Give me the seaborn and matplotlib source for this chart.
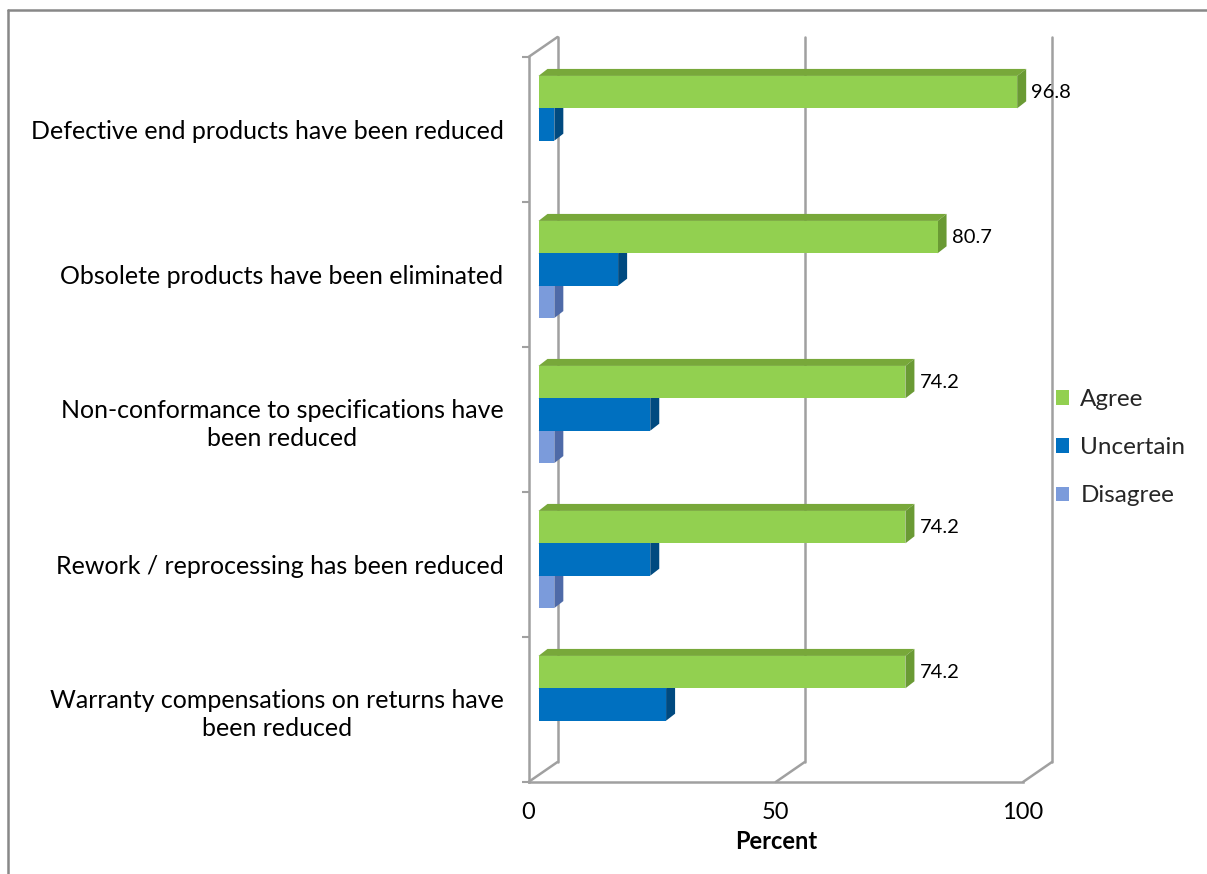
import matplotlib
matplotlib.use("Agg")
import matplotlib.pyplot as plt
import matplotlib.transforms as mtransforms
from matplotlib.patches import Polygon, Patch
from matplotlib.lines import Line2D
import numpy as np
import pandas as pd
import seaborn as sns

# Survey results (percent of respondents)
categories = [
    "Defective end products have been reduced",
    "Obsolete products have been eliminated",
    "Non-conformance to specifications have\nbeen reduced",
    "Rework / reprocessing has been reduced",
    "Warranty compensations on returns have\nbeen reduced",
]
responses = ["Agree", "Uncertain", "Disagree"]
agree = [96.8, 80.7, 74.2, 74.2, 74.2]
uncertain = [3.2, 16.1, 22.6, 22.6, 25.8]
disagree = [0.0, 3.2, 3.2, 3.2, 0.0]
x_ticks = [0, 50, 100]

front_colors = {"Agree": "#92D050", "Uncertain": "#0070C0", "Disagree": "#7B9BDB"}
top_colors = {"Agree": "#78A83A", "Uncertain": "#005C9E", "Disagree": "#6583C4"}
side_colors = {"Agree": "#6A9A34", "Uncertain": "#004A80", "Disagree": "#4E6AA8"}
grid_color = "#A0A0A0"

df = pd.DataFrame({
    "Statement": categories * 3,
    "Response": np.repeat(responses, len(categories)),
    "Percent": agree + uncertain + disagree,
})

sns.set_style("white")
plt.rcParams["font.family"] = ["Lato", "DejaVu Sans"]

W, H = 1207, 874
fig = plt.figure(figsize=(W / 100, H / 100), dpi=100)
# front plane of the 3-D box, in pixels
left_px, right_px, top_px, bottom_px = 528.5, 1023, 57, 782
ax = fig.add_axes([left_px / W, (H - bottom_px) / H,
                   (right_px - left_px) / W, (bottom_px - top_px) / H])

sns.barplot(data=df, x="Percent", y="Statement", hue="Response",
            order=categories, hue_order=responses, orient="h",
            palette=front_colors, width=0.67, saturation=1, linewidth=0,
            errorbar=None, legend=False, ax=ax)

ax.set_xlim(0, 100)
ax.set_ylim(4.5, -0.5)

# data units per pixel
ux = 100 / (right_px - left_px)
uy = 5 / (bottom_px - top_px)

# depth geometry (pixels)
bar_fx, bar_fy = 10, 5      # shift of the bars' front face from the front plane
bar_dx, bar_dy = 9, 7       # bar thickness in depth
wall_dx, wall_dy = 29, 20   # back plane offset

bar_tr = mtransforms.offset_copy(ax.transData, fig=fig, x=bar_fx, y=bar_fy, units="dots")
back_tr = mtransforms.offset_copy(ax.transData, fig=fig, x=wall_dx, y=wall_dy, units="dots")

ddx, ddy = bar_dx * ux, bar_dy * uy
for p in list(ax.patches):
    w = p.get_width()
    if w <= 0:
        p.set_visible(False)
        continue
    x0, y0, h = p.get_x(), p.get_y(), p.get_height()
    x1 = x0 + w
    fc = matplotlib.colors.to_hex(p.get_facecolor())
    resp = [r for r in responses if matplotlib.colors.to_hex(front_colors[r]) == fc][0]
    z = 3 + (5 - y0) * 0.5
    p.set_transform(bar_tr)
    p.set_zorder(z + 0.2)
    top = Polygon([(x0, y0), (x0 + ddx, y0 - ddy), (x1 + ddx, y0 - ddy), (x1, y0)],
                  closed=True, facecolor=top_colors[resp], edgecolor="none",
                  transform=bar_tr, zorder=z, clip_on=False)
    side = Polygon([(x1, y0), (x1 + ddx, y0 - ddy), (x1 + ddx, y0 + h - ddy), (x1, y0 + h)],
                   closed=True, facecolor=side_colors[resp], edgecolor="none",
                   transform=bar_tr, zorder=z + 0.1, clip_on=False)
    ax.add_patch(top)
    ax.add_patch(side)
    if resp == "Agree":
        ax.text(x1, y0 + h / 2, f"{w:.1f}",
                transform=mtransforms.offset_copy(ax.transData, fig=fig,
                                                  x=bar_fx + bar_dx + 5, y=bar_fy, units="dots"),
                ha="left", va="center", fontsize=14.5, color="#000000", zorder=10)

# back-plane gridlines and floor/wall diagonals
for xv in x_ticks:
    ax.plot([xv, xv], [-0.5, 4.5], color=grid_color, lw=1.8,
            transform=back_tr, clip_on=False, zorder=0.5)
    ax.plot([xv, xv + wall_dx * ux], [4.5, 4.5 - wall_dy * uy], color=grid_color,
            lw=1.8, clip_on=False, zorder=0.5)
ax.plot([0, wall_dx * ux], [-0.5, -0.5 - wall_dy * uy], color=grid_color,
        lw=1.8, clip_on=False, zorder=0.5)

# front plane axes
for s in ["top", "right"]:
    ax.spines[s].set_visible(False)
for s in ["left", "bottom"]:
    ax.spines[s].set_color(grid_color)
    ax.spines[s].set_linewidth(1.8)
    ax.spines[s].set_zorder(0.6)

ax.set_xticks(x_ticks)
ax.set_xticklabels([str(t) for t in x_ticks])
ax.tick_params(axis="x", length=4.5, width=1.5, color=grid_color, pad=10,
               labelsize=17, labelcolor="#000000", direction="out")
ax.set_yticks(range(len(categories)))
ax.set_yticks(np.arange(-0.5, len(categories), 1.0), minor=True)
ax.tick_params(axis="y", which="major", length=0, pad=18, labelsize=18,
               labelcolor="#000000")
ax.tick_params(axis="y", which="minor", length=5, width=1.5, color=grid_color,
               direction="out", left=True)
for lbl in ax.get_yticklabels():
    lbl.set_multialignment("center")
    lbl.set_linespacing(1.3)
ax.set_ylabel("")
ax.set_xlabel("Percent", fontsize=17, fontweight="bold", labelpad=5, color="#000000")

# legend
handles = [Patch(facecolor=front_colors[r], edgecolor="none") for r in responses]
fig.legend(handles, responses, loc="upper left",
           bbox_to_anchor=(1056 / W, 1 - 389 / H), frameon=False,
           fontsize=17.5, handlelength=0.55, handleheight=0.55,
           handletextpad=0.45, labelspacing=1.12, borderpad=0, borderaxespad=0)

# chart border
border = dict(color="#888888", lw=1.8, transform=fig.transFigure)
fig.add_artist(Line2D([8 / W, 8 / W], [0, 1 - 10 / H], **border))
fig.add_artist(Line2D([8 / W, 1], [1 - 10 / H, 1 - 10 / H], **border))

fig.savefig("out.png", dpi=100, facecolor="white")
